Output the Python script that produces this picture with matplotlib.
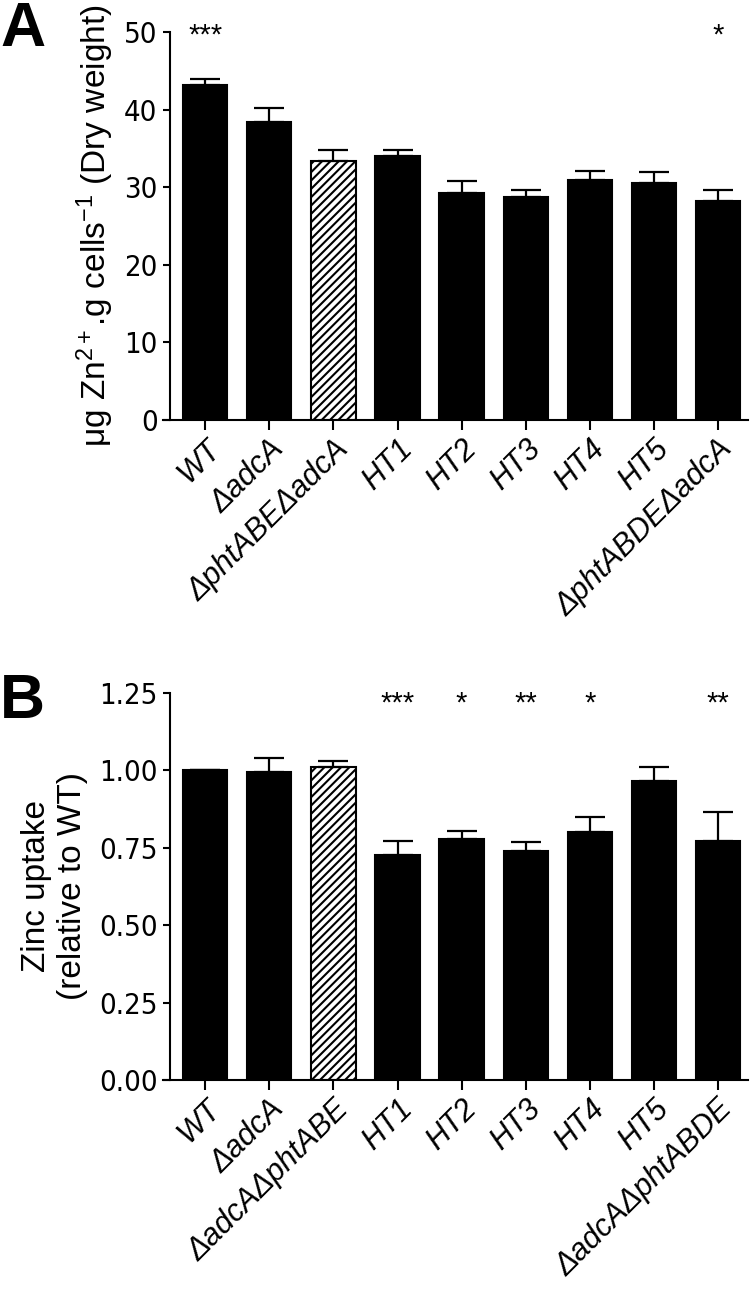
import matplotlib
matplotlib.use("Agg")
import matplotlib.pyplot as plt
import numpy as np

# ---------------- data ----------------
labels_a = ["WT", "ΔadcA", "ΔphtABEΔadcA", "HT1", "HT2", "HT3", "HT4", "HT5", "ΔphtABDEΔadcA"]
values_a = [43.2, 38.4, 33.4, 34.0, 29.3, 28.7, 30.9, 30.5, 28.2]
err_a = [0.7, 1.8, 1.4, 0.8, 1.5, 0.9, 1.2, 1.4, 1.4]
stars_a = ["***", "", "", "", "", "", "", "", "*"]

labels_b = ["WT", "ΔadcA", "ΔadcAΔphtABE", "HT1", "HT2", "HT3", "HT4", "HT5", "ΔadcAΔphtABDE"]
values_b = [1.00, 0.994, 1.011, 0.728, 0.777, 0.739, 0.801, 0.965, 0.771]
err_b = [0.0, 0.045, 0.019, 0.043, 0.028, 0.029, 0.048, 0.047, 0.095]
stars_b = ["", "", "", "***", "*", "**", "*", "", "**"]

hatched_index = 2
yticks_a = [0, 10, 20, 30, 40, 50]
yticks_b = [0.00, 0.25, 0.50, 0.75, 1.00, 1.25]

plt.rcParams['font.family'] = ['Liberation Sans', 'DejaVu Sans']
plt.rcParams['mathtext.fontset'] = 'custom'
plt.rcParams['mathtext.rm'] = 'Liberation Sans'
plt.rcParams['mathtext.it'] = 'Liberation Sans:italic'
plt.rcParams['hatch.linewidth'] = 1.5

fig = plt.figure(figsize=(7.5, 13.02), dpi=100)

W, H = 750, 1302
def axpos(x0, x1, ytop, ybot):
    return [x0 / W, 1 - ybot / H, (x1 - x0) / W, (ybot - ytop) / H]

ax_a = fig.add_axes(axpos(163, 748, 32, 420))
ax_b = fig.add_axes(axpos(163, 748, 693, 1080))


def draw(ax, labels, values, errs, stars, yticks, ytlabels, ylabel, star_y, labelpad):
    x = np.arange(len(values))
    colors = ['white' if i == hatched_index else 'black' for i in range(len(values))]
    bars = ax.bar(x, values, width=0.69, color=colors, edgecolor='black', linewidth=1.5, zorder=2)
    bars[hatched_index].set_hatch('////')
    ax.errorbar(x, values, yerr=[np.zeros(len(errs)), errs], fmt='none', ecolor='black',
                elinewidth=1.6, capsize=11, capthick=1.6, zorder=3)
    ax.set_xlim(-0.66, 8.47)
    ax.spines['left'].set_position(('data', -0.55))
    ax.set_ylim(yticks[0], yticks[-1])
    ax.set_yticks(yticks)
    ax.set_yticklabels(ytlabels, family='DejaVu Sans', fontstretch='condensed', fontsize=21)
    ax.set_xticks(x)
    ax.set_xticklabels(labels, rotation=45, ha='right', rotation_mode='anchor',
                       style='italic', fontsize=22)
    for s in ['top', 'right']:
        ax.spines[s].set_visible(False)
    for s in ['left', 'bottom']:
        ax.spines[s].set_linewidth(1.5)
    ax.tick_params(axis='y', length=5, width=1.5, pad=4)
    ax.tick_params(axis='x', length=7, width=1.5, pad=3)
    ax.set_ylabel(ylabel, fontsize=24, labelpad=labelpad)
    for xi, s in zip(x, stars):
        if s:
            ax.text(xi, star_y, s, ha='center', va='center', fontsize=21, clip_on=False)


draw(ax_a, labels_a, values_a, err_a, stars_a, yticks_a, [str(t) for t in yticks_a],
     "μg Zn$^{2+}$.g cells$^{-1}$ (Dry weight)", 49.6, 6)
draw(ax_b, labels_b, values_b, err_b, stars_b, yticks_b, ["%.2f" % t for t in yticks_b],
     "Zinc uptake\n(relative to WT)", 1.215, 8)
ax_b.yaxis.label.set_multialignment('center')

fig.text(0.0, 1 - 46 / H, "A", fontsize=45, fontweight='bold', ha='left', va='baseline')
fig.text(0.0, 1 - 718 / H, "B", fontsize=45, fontweight='bold', ha='left', va='baseline')

fig.savefig("out.png", dpi=100)
